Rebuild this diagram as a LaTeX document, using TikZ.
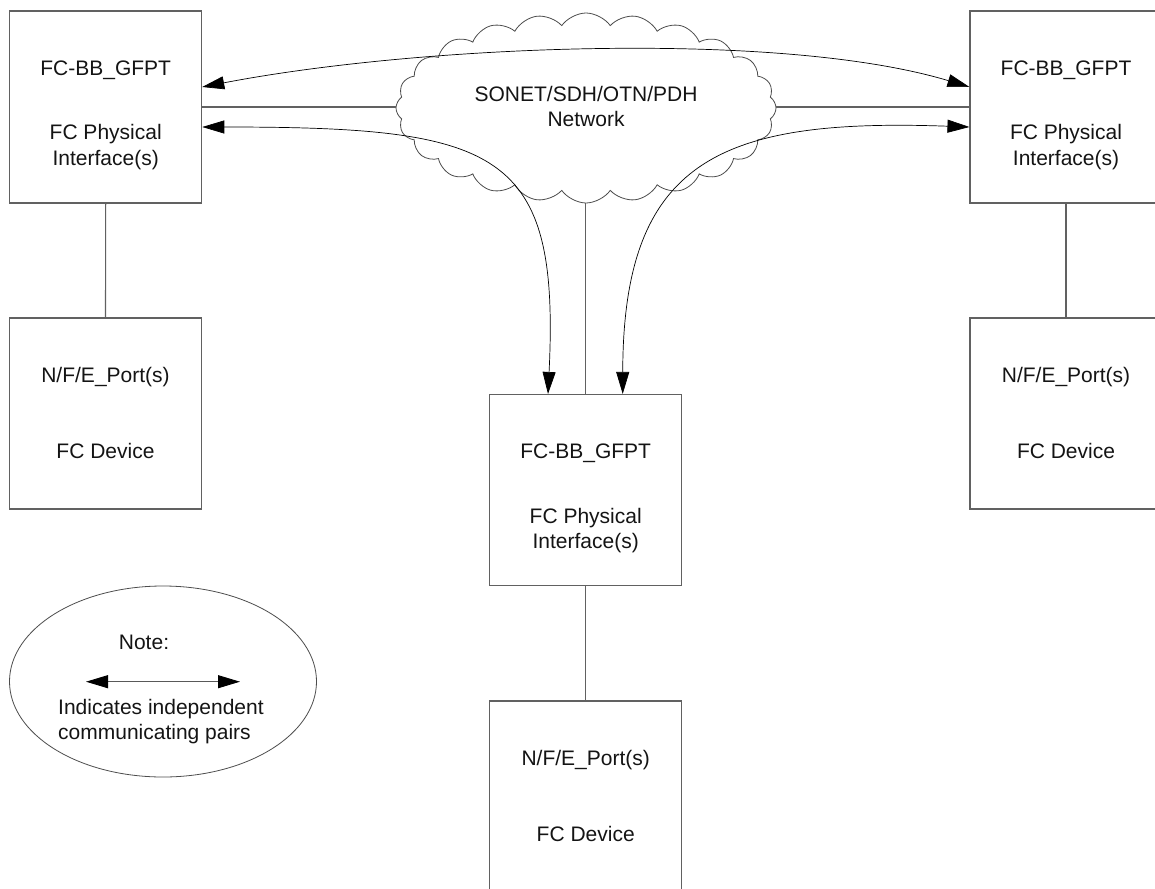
\documentclass[tikz,border=0pt]{standalone}
\usepackage{fontspec}
\setmainfont{Liberation Sans}
\usetikzlibrary{arrows.meta,shapes.symbols,shapes.geometric}
\begin{document}
\begin{tikzpicture}[x=1pt,y=-1pt,
  box/.style={draw=black!62,line width=1.1pt,minimum width=192pt,minimum height=192pt,inner sep=0pt},
  lbl/.style={anchor=base,inner sep=0pt,font=\fontsize{21}{25}\selectfont,text=black!92},
  link/.style={draw=black!62,line width=1.1pt},
  pair/.style={draw=black,line width=0.7pt,{Triangle[length=22pt,width=13pt,color=black]}-{Triangle[length=22pt,width=13pt,color=black]}},
  netcloud/.style={cloud,draw=black!70,line width=0.8pt,cloud puffs=24,cloud puff arc=110,aspect=2,minimum width=380pt,minimum height=190pt,inner sep=0pt}
]
\useasboundingbox (0,0) rectangle (1155,888);
\clip (0,0) rectangle (1155,888);
% cloud
\node[netcloud] (net) at (586,108) {};
\node[lbl] (netA) at (586,102) {SONET/SDH/OTN/PDH};
\node[lbl] (netB) at (586,126.5) {Network};
% boxes
\node[box] (tl) at (105.7,107) {};
\node[box,minimum height=191pt] (bl) at (105.5,413.5) {};
\node[box] (tr) at (1066,107) {};
\node[box,minimum height=191pt] (br) at (1066,413.5) {};
\node[box,minimum height=191pt] (cb) at (585.7,490) {};
\node[box] (bb) at (585.7,797) {};
% texts
\node[lbl] (tlA) at ([yshift=31pt]tl.center) {FC-BB\_GFPT};
\node[lbl] (tlB) at ([yshift=-32.5pt]tl.center) {FC Physical};
\node[lbl] (tlC) at ([yshift=-58pt]tl.center) {Interface(s)};
\node[lbl] (trA) at ([yshift=31pt]tr.center) {FC-BB\_GFPT};
\node[lbl] (trB) at ([yshift=-32.5pt]tr.center) {FC Physical};
\node[lbl] (trC) at ([yshift=-58pt]tr.center) {Interface(s)};
\node[lbl] (cbA) at ([yshift=31.5pt]cb.center) {FC-BB\_GFPT};
\node[lbl] (cbB) at ([yshift=-33pt]cb.center) {FC Physical};
\node[lbl] (cbC) at ([yshift=-58.5pt]cb.center) {Interface(s)};
\node[lbl] (blA) at ([yshift=31pt]bl.center) {N/F/E\_Port(s)};
\node[lbl] (blB) at ([yshift=-45pt]bl.center) {FC Device};
\node[lbl] (brA) at ([yshift=31pt]br.center) {N/F/E\_Port(s)};
\node[lbl] (brB) at ([yshift=-45pt]br.center) {FC Device};
\node[lbl] (bbA) at ([yshift=32pt]bb.center) {N/F/E\_Port(s)};
\node[lbl] (bbB) at ([yshift=-44.5pt]bb.center) {FC Device};
% straight links
\draw[link] (tl.south) -- (bl.north);
\draw[link] (tr.south) -- (br.north);
\draw[link] (cb.south) -- (bb.north);
\draw[link] (tl.east) -- (tl.east -| net.west);
\draw[link] (tr.west -| net.east) -- (tr.west);
\draw[link] (net.south -| cb.north) -- (cb.north);
% communicating pairs
\coordinate (tlU) at ([yshift=20pt]tl.east);
\coordinate (tlD) at ([yshift=-20pt]tl.east);
\coordinate (trU) at ([yshift=20pt]tr.west);
\coordinate (trD) at ([yshift=-20pt]tr.west);
\coordinate (cbL) at ([xshift=-37.7pt]cb.north);
\coordinate (cbR) at ([xshift=37pt]cb.north);
\draw[pair] (tlU) .. controls (420,45) and (780,30) .. (trU);
\draw[pair] (tlD) .. controls (500,127) and (560,150) .. (cbL);
\draw[pair] (trD) .. controls (720,118) and (623,160) .. (cbR);
% note
\node[draw=black!70,line width=0.8pt,ellipse,minimum width=307pt,minimum height=191pt,inner sep=0pt] (note) at (163,681.5) {};
\node[lbl] (noteT) at (144,649.5) {Note:};
\coordinate (nA) at (86,681.7);
\coordinate (nB) at (240,681.7);
\draw[pair,draw=black!65,line width=0.9pt] (nA) -- (nB);
\node[lbl,anchor=base west] (noteL1) at (58,714.5) {Indicates independent};
\node[lbl,anchor=base west] (noteL2) at (58,739.5) {communicating pairs};
\end{tikzpicture}
\end{document}
